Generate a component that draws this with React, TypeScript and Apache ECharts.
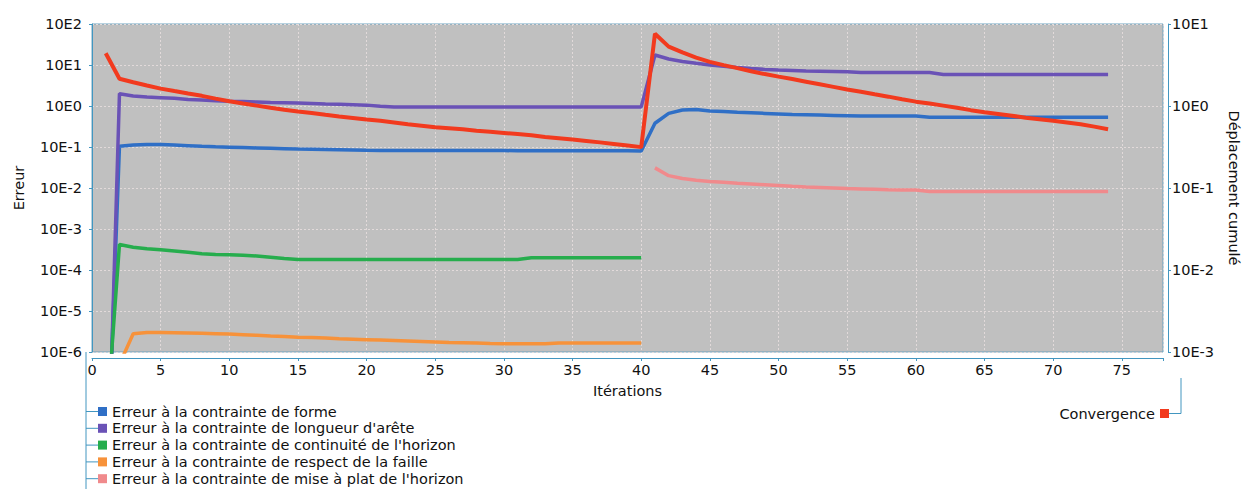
import React, { useEffect, useRef } from "react";
import * as echarts from "echarts";

// Iterations (x values)
const iterationsAll = Array.from({ length: 74 }, (_, i) => i + 1);
const iterationsFirst = iterationsAll.slice(0, 40); // 1..40
const iterationsSecond = iterationsAll.slice(40); // 41..74

const leftTicks = ["10E-6", "10E-5", "10E-4", "10E-3", "10E-2", "10E-1", "10E0", "10E1", "10E2"];

// Erreur à la contrainte de forme (iterations 1..74)
const formeErr = [
  1e-10, 0.105, 0.112, 0.115, 0.115, 0.112, 0.108, 0.104, 0.101, 0.099,
  0.097, 0.095, 0.093, 0.091, 0.089, 0.088, 0.087, 0.086, 0.085, 0.083,
  0.082, 0.082, 0.082, 0.082, 0.082, 0.082, 0.082, 0.082, 0.082, 0.082,
  0.081, 0.081, 0.081, 0.081, 0.081, 0.081, 0.081, 0.081, 0.081, 0.08,
  0.38, 0.66, 0.8, 0.82, 0.76, 0.73, 0.7, 0.68, 0.66, 0.64,
  0.62, 0.61, 0.6, 0.59, 0.58, 0.57, 0.57, 0.57, 0.57, 0.57,
  0.53, 0.53, 0.53, 0.53, 0.53, 0.53, 0.53, 0.53, 0.53, 0.53,
  0.53, 0.53, 0.53, 0.53,
];

// Erreur à la contrainte de longueur d'arête (iterations 1..74)
const longueurErr = [
  1e-11, 2.0, 1.75, 1.65, 1.6, 1.55, 1.45, 1.4, 1.35, 1.3,
  1.28, 1.25, 1.22, 1.2, 1.18, 1.15, 1.12, 1.1, 1.08, 1.05,
  0.98, 0.95, 0.95, 0.95, 0.95, 0.95, 0.95, 0.95, 0.95, 0.95,
  0.95, 0.95, 0.95, 0.95, 0.95, 0.95, 0.95, 0.95, 0.95, 0.95,
  17.5, 14, 12.2, 11, 10, 9.3, 8.7, 8.2, 7.8, 7.5,
  7.3, 7.1, 7.0, 6.9, 6.8, 6.6, 6.6, 6.6, 6.6, 6.6,
  6.6, 5.9, 5.9, 5.9, 5.9, 5.9, 5.9, 5.9, 5.9, 5.9,
  5.9, 5.9, 5.9, 5.9,
];

// Erreur à la contrainte de continuité de l'horizon (iterations 1..40)
const continuiteErr = [
  1e-8, 4.2e-4, 3.6e-4, 3.3e-4, 3.1e-4, 2.9e-4, 2.7e-4, 2.5e-4, 2.4e-4, 2.35e-4,
  2.3e-4, 2.2e-4, 2.05e-4, 1.9e-4, 1.8e-4, 1.8e-4, 1.8e-4, 1.8e-4, 1.8e-4, 1.8e-4,
  1.8e-4, 1.8e-4, 1.8e-4, 1.8e-4, 1.8e-4, 1.8e-4, 1.8e-4, 1.8e-4, 1.8e-4, 1.8e-4,
  1.8e-4, 2.0e-4, 2.0e-4, 2.0e-4, 2.0e-4, 2.0e-4, 2.0e-4, 2.0e-4, 2.0e-4, 2.0e-4,
];

// Erreur à la contrainte de respect de la faille (iterations 1..40)
const failleErr = [
  1e-7, 5e-7, 2.8e-6, 3.0e-6, 3.0e-6, 2.95e-6, 2.9e-6, 2.85e-6, 2.8e-6, 2.75e-6,
  2.65e-6, 2.55e-6, 2.45e-6, 2.4e-6, 2.3e-6, 2.25e-6, 2.2e-6, 2.1e-6, 2.05e-6, 2.0e-6,
  1.95e-6, 1.9e-6, 1.85e-6, 1.8e-6, 1.75e-6, 1.7e-6, 1.68e-6, 1.65e-6, 1.62e-6, 1.6e-6,
  1.6e-6, 1.58e-6, 1.58e-6, 1.65e-6, 1.65e-6, 1.65e-6, 1.65e-6, 1.65e-6, 1.65e-6, 1.65e-6,
];

// Erreur à la contrainte de mise à plat de l'horizon (iterations 41..74)
const miseAPlatErr = [
  0.031, 0.02, 0.017, 0.0155, 0.0145, 0.0138, 0.013, 0.0125, 0.012, 0.0115,
  0.011, 0.0106, 0.0103, 0.01, 0.0097, 0.0095, 0.0093, 0.0091, 0.009, 0.0089,
  0.0082, 0.0082, 0.0082, 0.0082, 0.0082, 0.0082, 0.0082, 0.0082, 0.0082, 0.0082,
  0.0082, 0.0082, 0.0082, 0.0082,
];

// Convergence — Déplacement cumulé (iterations 1..74, right axis)
const convergence = [
  4.4, 2.15, 1.95, 1.78, 1.63, 1.52, 1.42, 1.33, 1.23, 1.14,
  1.07, 1.01, 0.95, 0.9, 0.855, 0.82, 0.78, 0.745, 0.715, 0.685,
  0.66, 0.63, 0.6, 0.575, 0.55, 0.535, 0.52, 0.5, 0.485, 0.47,
  0.455, 0.44, 0.42, 0.405, 0.39, 0.375, 0.36, 0.345, 0.33, 0.315,
  7.6, 5.3, 4.5, 3.9, 3.45, 3.15, 2.9, 2.65, 2.45, 2.28,
  2.13, 1.98, 1.84, 1.71, 1.59, 1.49, 1.39, 1.3, 1.21, 1.13,
  1.07, 1.01, 0.95, 0.89, 0.84, 0.8, 0.76, 0.72, 0.69, 0.66,
  0.63, 0.6, 0.56, 0.52,
];

const names = [
  "Erreur à la contrainte de forme",
  "Erreur à la contrainte de longueur d'arête",
  "Erreur à la contrainte de continuité de l'horizon",
  "Erreur à la contrainte de respect de la faille",
  "Erreur à la contrainte de mise à plat de l'horizon",
];
const convName = "Convergence";

const colors = ["#2f6fc6", "#6a52b6", "#26ad4d", "#f7923a", "#f08a8c"];
const convColor = "#f23a1e";

const pairs = (xs: number[], vals: number[]) => vals.map((v, i) => [xs[i], v]);

const FONT = "DejaVu Sans";
const AXIS_COLOR = "#4296c0";
const CHART_H = 489;

const LEGEND_TOP = 404;
const LEGEND_ROW = 15;
const LEGEND_GAP = 1.8;

export default function App() {
  const ref = useRef<HTMLDivElement>(null);

  useEffect(() => {
    if (!ref.current) return;
    const chart = echarts.init(ref.current, undefined, { renderer: "svg" });

    const lineSeries = (name: string, color: string, data: number[][], yAxisIndex = 0, width = 3.5) => ({
      name,
      type: "line",
      yAxisIndex,
      data,
      showSymbol: false,
      symbol: "none",
      clip: true,
      lineStyle: { color, width },
      itemStyle: { color },
    });

    const legendLineY = names.map(
      (_, i) => LEGEND_TOP + LEGEND_ROW / 2 + i * (LEGEND_ROW + LEGEND_GAP)
    );

    chart.setOption({
      animation: false,
      backgroundColor: "#ffffff",
      textStyle: { fontFamily: FONT },
      grid: {
        left: 92,
        right: 78,
        top: 24,
        bottom: CHART_H - 352,
        show: true,
        backgroundColor: "#c0c0c0",
        borderColor: "#6fa3bf",
        borderWidth: 1,
      },
      legend: [
        {
          data: names,
          orient: "vertical",
          left: 98,
          top: LEGEND_TOP,
          height: 90,
          padding: 0,
          itemWidth: 9,
          itemHeight: 9,
          itemGap: LEGEND_GAP,
          icon: "rect",
          textStyle: { fontFamily: FONT, fontSize: 14.5, color: "#111", lineHeight: LEGEND_ROW },
        },
        {
          data: [convName],
          orient: "vertical",
          right: 80,
          top: 406,
          padding: 0,
          align: "right",
          itemWidth: 9,
          itemHeight: 9,
          icon: "rect",
          textStyle: { fontFamily: FONT, fontSize: 14.5, color: "#111", lineHeight: 15 },
        },
      ],
      xAxis: {
        type: "value",
        min: 0,
        max: 78,
        interval: 5,
        offset: 6,
        name: "Itérations",
        nameLocation: "middle",
        nameGap: 25,
        nameTextStyle: { fontFamily: FONT, fontSize: 14.5, color: "#111" },
        axisLine: { show: true, lineStyle: { color: AXIS_COLOR, width: 1 } },
        axisTick: { show: true, length: 3, lineStyle: { color: AXIS_COLOR } },
        axisLabel: {
          fontFamily: FONT,
          fontSize: 14.5,
          color: "#111",
          margin: 4,
          formatter: (v: number) => (v % 5 === 0 ? String(v) : ""),
        },
        splitLine: { show: true, lineStyle: { color: "#e2dada", type: [2, 2], width: 1 } },
      },
      yAxis: [
        {
          type: "log",
          logBase: 10,
          min: 1e-6,
          max: 100,
          position: "left",
          offset: 6,
          name: "Erreur",
          nameLocation: "middle",
          nameGap: 60,
          nameTextStyle: { fontFamily: FONT, fontSize: 14.5, color: "#111" },
          axisLine: { show: true, lineStyle: { color: AXIS_COLOR, width: 1 } },
          axisTick: { show: true, length: 3, lineStyle: { color: AXIS_COLOR } },
          axisLabel: {
            fontFamily: FONT,
            fontSize: 14.5,
            color: "#111",
            margin: 4,
            formatter: (v: number) => leftTicks[Math.round(Math.log10(v)) + 6] ?? "",
          },
          splitLine: { show: true, lineStyle: { color: "#e2dada", type: [2, 2], width: 1 } },
        },
        {
          type: "log",
          logBase: 10,
          min: 0.001,
          max: 10,
          position: "right",
          offset: 5,
          name: "Déplacement cumulé",
          nameLocation: "middle",
          nameRotate: -90,
          nameGap: 58,
          nameTextStyle: { fontFamily: FONT, fontSize: 14.5, color: "#111" },
          axisLine: { show: true, lineStyle: { color: AXIS_COLOR, width: 1 } },
          axisTick: { show: true, length: 3, lineStyle: { color: AXIS_COLOR } },
          axisLabel: {
            fontFamily: FONT,
            fontSize: 14.5,
            color: "#111",
            margin: 4,
            formatter: (v: number) => "10E" + Math.round(Math.log10(v)),
          },
          splitLine: { show: false },
        },
      ],
      graphic: [
        {
          type: "line",
          silent: true,
          shape: { x1: 86, y1: 352, x2: 86, y2: CHART_H },
          style: { stroke: AXIS_COLOR, lineWidth: 1 },
        },
        ...legendLineY.map((y) => ({
          type: "line",
          silent: true,
          shape: { x1: 86, y1: y, x2: 98, y2: y },
          style: { stroke: AXIS_COLOR, lineWidth: 1 },
        })),
        {
          type: "line",
          silent: true,
          shape: { x1: 1181, y1: 378, x2: 1181, y2: 413.5 },
          style: { stroke: AXIS_COLOR, lineWidth: 1 },
        },
        {
          type: "line",
          silent: true,
          shape: { x1: 1169, y1: 413.5, x2: 1181, y2: 413.5 },
          style: { stroke: AXIS_COLOR, lineWidth: 1 },
        },
      ],
      series: [
        lineSeries(names[0], colors[0], pairs(iterationsAll, formeErr)),
        lineSeries(names[1], colors[1], pairs(iterationsAll, longueurErr)),
        lineSeries(names[2], colors[2], pairs(iterationsFirst, continuiteErr)),
        lineSeries(names[3], colors[3], pairs(iterationsFirst, failleErr)),
        lineSeries(names[4], colors[4], pairs(iterationsSecond, miseAPlatErr)),
        lineSeries(convName, convColor, pairs(iterationsAll, convergence), 1, 4),
      ],
    });

    return () => chart.dispose();
  }, []);

  return (
    <div
      ref={ref}
      style={{ position: "fixed", left: 0, top: 0, width: 1249, height: CHART_H }}
    />
  );
}
